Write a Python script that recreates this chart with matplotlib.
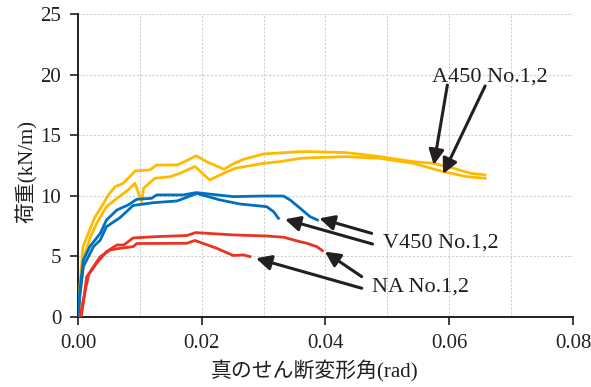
import matplotlib
matplotlib.use("Agg")
import matplotlib.pyplot as plt
from matplotlib.ticker import MultipleLocator, FormatStrFormatter

# ---- data ----
a1_x = [0, 0.0003, 0.0008, 0.0019, 0.0027, 0.0038, 0.0049, 0.006, 0.0073, 0.0089, 0.0092,
        0.0116, 0.0127, 0.016, 0.0176, 0.0191, 0.0208, 0.0236, 0.0251, 0.0267, 0.030,
        0.0359, 0.038, 0.0434, 0.0488, 0.0542, 0.0574, 0.0607, 0.0634, 0.0658]
a1_y = [0, 2.5, 5.8, 7.2, 8.2, 9.1, 10.07, 10.75, 11.03, 11.86, 12.05,
        12.13, 12.54, 12.54, 12.91, 13.3, 12.81, 12.19, 12.64, 13.0, 13.45,
        13.64, 13.64, 13.56, 13.23, 12.81, 12.68, 12.27, 11.86, 11.72]

a2_x = [0, 0.0004, 0.001, 0.002, 0.0032, 0.0046, 0.0063, 0.0081, 0.0092, 0.0103, 0.0106,
        0.0124, 0.0149, 0.0165, 0.0189, 0.0213, 0.0235, 0.0254, 0.030, 0.0326, 0.0359,
        0.038, 0.0434, 0.0488, 0.0542, 0.059, 0.0628, 0.0658]
a2_y = [0, 2.2, 5.0, 6.6, 7.9, 9.1, 9.79, 10.48, 11.03, 9.51, 10.62,
        11.44, 11.58, 11.86, 12.42, 11.3, 11.86, 12.27, 12.68, 12.81, 13.09,
        13.14, 13.23, 13.09, 12.68, 11.99, 11.58, 11.44]

v1_x = [0, 0.0003, 0.00086, 0.0019, 0.0036, 0.0046, 0.0063, 0.0081, 0.0095, 0.0119, 0.0127,
        0.017, 0.0191, 0.0251, 0.030, 0.0332, 0.0343, 0.0359, 0.0375, 0.0387]
v1_y = [0, 2.2, 4.7, 5.8, 6.9, 8.0, 8.83, 9.24, 9.71, 9.79, 10.07,
        10.07, 10.26, 9.93, 9.98, 9.98, 9.65, 8.97, 8.28, 8.0]

v2_x = [0, 0.0003, 0.00086, 0.0025, 0.0036, 0.0046, 0.0068, 0.0089, 0.0122, 0.016, 0.0192,
        0.023, 0.0262, 0.0305, 0.0316, 0.0324]
v2_y = [0, 1.8, 4.15, 5.8, 6.35, 7.45, 8.2, 9.2, 9.43, 9.57, 10.19,
        9.65, 9.32, 9.1, 8.69, 8.14]

n1_x = [0.0005, 0.0011, 0.0017, 0.003, 0.0046, 0.0063, 0.0074, 0.0089, 0.0127, 0.0176, 0.019,
        0.0251, 0.0305, 0.0332, 0.0359, 0.037, 0.0386, 0.0395]
n1_y = [0, 1.96, 3.47, 4.43, 5.39, 5.94, 5.94, 6.52, 6.63, 6.72, 6.96,
        6.77, 6.68, 6.58, 6.21, 6.08, 5.8, 5.47]

n2_x = [0.0003, 0.001, 0.0014, 0.0025, 0.0036, 0.0052, 0.0068, 0.0089, 0.0095, 0.0176, 0.0189,
        0.0224, 0.0251, 0.0267, 0.0278]
n2_y = [0, 1.8, 3.3, 4.15, 4.98, 5.53, 5.67, 5.8, 6.06, 6.08, 6.31,
        5.67, 5.07, 5.12, 4.98]

labels = ["A450 No.1,2", "V450 No.1,2", "NA No.1,2"]
label_pos = [(0.0665, 19.8), (0.0587, 6.1), (0.0554, 2.5)]
arrow_tips = [[(0.0575, 12.54), (0.0590, 11.8)],
              [(0.0390, 8.14), (0.03345, 8.06)],
              [(0.0399, 5.39), (0.02877, 4.84)]]
arrow_tails = [[(0.0597, 19.14), (0.0658, 19.06)],
               [(0.04746, 6.9), (0.0476, 6.02)],
               [(0.04585, 3.33), (0.04585, 2.37)]]

yellow = "#FFBA00"
blue = "#0070C0"
red = "#EA3323"

serif = ["Liberation Serif", "DejaVu Serif"]
jp = ["Liberation Serif", "Noto Sans CJK JP", "DejaVu Sans"]

fig = plt.figure(figsize=(5.91, 3.87), dpi=100)
ax = fig.add_axes([0.132, 0.181, 0.8375, 0.7828])

for xs, ys, c in [(a1_x, a1_y, yellow), (a2_x, a2_y, yellow),
                  (v1_x, v1_y, blue), (v2_x, v2_y, blue),
                  (n1_x, n1_y, red), (n2_x, n2_y, red)]:
    ax.plot(xs, ys, color=c, lw=2.0, solid_joinstyle="round", zorder=3, clip_on=True)

for lab, pos, tips, tails in zip(labels, label_pos, arrow_tips, arrow_tails):
    ax.text(pos[0], pos[1], lab, fontsize=16, family=serif, ha="center", va="center",
            color="#231F20", zorder=5)
    for tip, tail in zip(tips, tails):
        ax.annotate("", xy=tip, xytext=tail,
                    arrowprops=dict(arrowstyle="-|>,head_length=0.9,head_width=0.45",
                                    color="#231F20", lw=2.2, shrinkA=0, shrinkB=0),
                    zorder=5)

ax.set_xlim(0, 0.08)
ax.set_ylim(0, 25)
ax.xaxis.set_major_locator(MultipleLocator(0.02))
ax.xaxis.set_minor_locator(MultipleLocator(0.01))
ax.yaxis.set_major_locator(MultipleLocator(5))
ax.xaxis.set_major_formatter(FormatStrFormatter("%.2f"))
ax.grid(which="both", color="#CFCFCF", ls=(0, (2, 1.5)), lw=0.8, zorder=0)
ax.set_axisbelow(True)
for s in ["top", "right"]:
    ax.spines[s].set_visible(False)
for s in ["left", "bottom"]:
    ax.spines[s].set_linewidth(1.4)
    ax.spines[s].set_color("#231F20")
ax.tick_params(which="major", direction="out", length=6, width=1.2, pad=6,
               labelsize=15, colors="#231F20")
ax.tick_params(which="minor", length=0)
for lbl in ax.get_xticklabels() + ax.get_yticklabels():
    lbl.set_family(serif)

ax.set_xlabel("真のせん断変形角(rad)", fontsize=15, family=jp, color="#231F20")
ax.xaxis.set_label_coords(0.478, -0.145)
ax.set_ylabel("荷重(kN/m)", fontsize=15, family=jp, color="#231F20")
ax.yaxis.set_label_coords(-0.08, 0.48)

fig.savefig("out.png", dpi=100)
